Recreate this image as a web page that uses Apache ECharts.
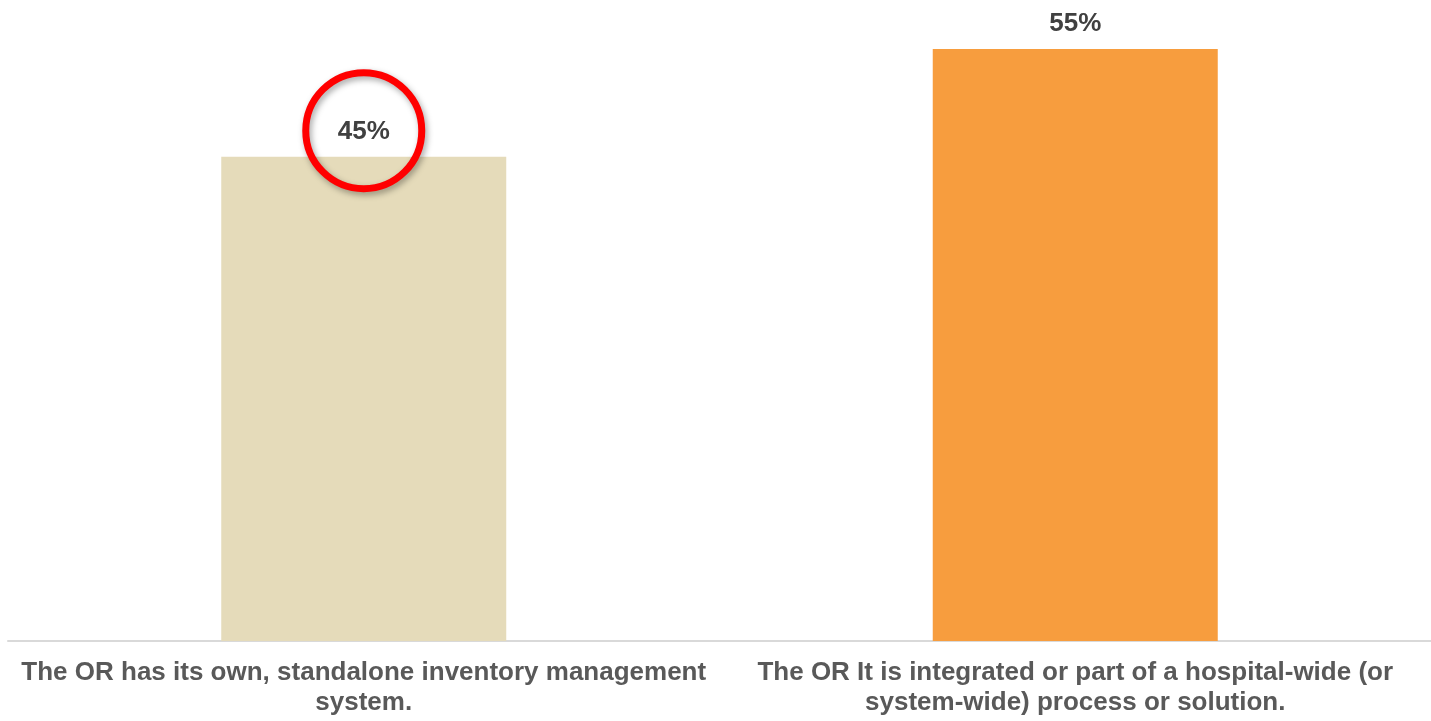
<!DOCTYPE html>
<html>
<head>
<meta charset="utf-8">
<title>OR inventory management</title>
<script src="https://cdn.jsdelivr.net/npm/echarts@6/dist/echarts.min.js"></script>
<style>
  html, body { margin: 0; padding: 0; background: #fff; }
  #main { width: 1431px; height: 721px; }
</style>
</head>
<body>
<div id="main"></div>
<script>
// chart data
var categories = [
  'The OR has its own, standalone inventory management\nsystem.',
  'The OR It is integrated or part of a hospital-wide (or\nsystem-wide) process or solution.'
];
var shares = [45, 55];
var barColors = ['#E5DBBA', '#F79D3E'];
var highlighted = [0]; // index of the circled value

var chart = echarts.init(document.getElementById('main'));

chart.setOption({
  backgroundColor: '#fff',
  animation: false,
  textStyle: { fontFamily: 'Liberation Sans, Arial, sans-serif' },
  grid: {
    left: 8,
    right: -3,
    top: 49,
    bottom: 80
  },
  xAxis: {
    type: 'category',
    data: categories,
    axisTick: { show: false },
    axisLine: {
      lineStyle: { color: '#D9D9D9', width: 2 }
    },
    axisLabel: {
      interval: 0,
      margin: 17,
      color: '#595959',
      fontSize: 26,
      fontWeight: 'bold',
      lineHeight: 30,
      align: 'center'
    }
  },
  yAxis: {
    type: 'value',
    min: 0,
    max: 55,
    show: false,
    splitLine: { show: false }
  },
  series: [
    {
      type: 'bar',
      barWidth: 285,
      data: shares.map(function (v, i) {
        return { value: v, itemStyle: { color: barColors[i] } };
      }),
      label: {
        show: true,
        position: 'top',
        distance: 12,
        formatter: '{c}%',
        color: '#404040',
        fontSize: 26,
        fontWeight: 'bold'
      },
      markPoint: {
        symbol: 'circle',
        symbolSize: 116,
        symbolOffset: [0, -26],
        silent: true,
        label: { show: false },
        itemStyle: {
          color: 'rgba(255,255,255,0)',
          borderColor: '#FF0000',
          borderWidth: 7,
          shadowColor: 'rgba(0,0,0,0.35)',
          shadowBlur: 6,
          shadowOffsetX: 2,
          shadowOffsetY: 3
        },
        data: highlighted.map(function (i) {
          return { coord: [i, shares[i]] };
        })
      }
    }
  ]
});
</script>
</body>
</html>
